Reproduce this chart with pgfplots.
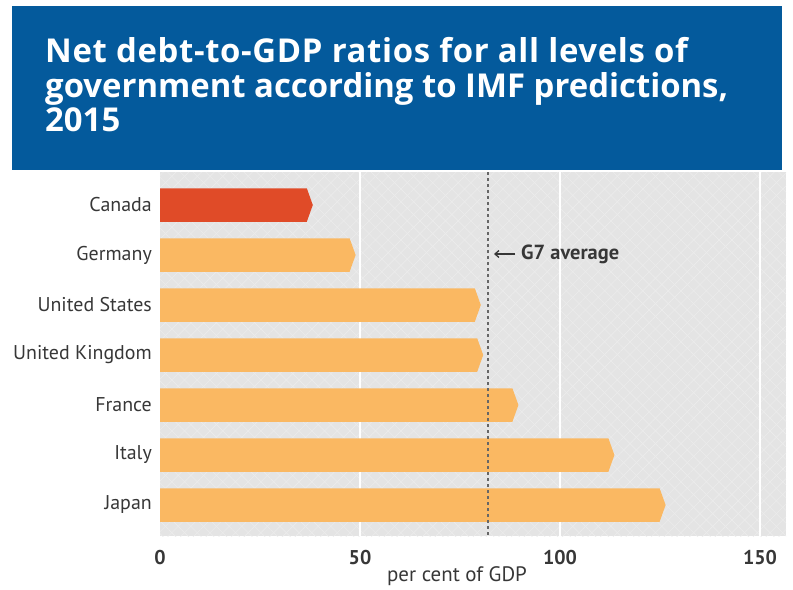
\documentclass[border=0pt]{standalone}
\usepackage{fontspec}
\usepackage{pgfplots}
\pgfplotsset{compat=1.18}
\usetikzlibrary{patterns.meta,arrows.meta}
\setmainfont{PT Sans}
\newfontfamily\titlefont[Ligatures=NoCommon]{Open Sans}
\definecolor{titleblue}{RGB}{4,90,156}
\definecolor{bggray}{RGB}{228,228,228}
\definecolor{hatch}{RGB}{236,236,236}
\definecolor{barorange}{RGB}{250,184,98}
\definecolor{barred}{RGB}{224,75,40}
\definecolor{txtgray}{RGB}{55,55,55}
\begin{document}
\begin{tikzpicture}[x=1bp,y=1bp]
\path[use as bounding box] (0,0) rectangle (793,-590);
\fill[titleblue] (12,-6) rectangle (782,-170);
\begin{scope}[every node/.style={anchor=base west, inner sep=0, text=white, font=\titlefont\bfseries\fontsize{33}{36}\selectfont}]
\node at (45,-63) {\addfontfeatures{LetterSpace=2}Net debt-to-GDP ratios for all levels of};
\node at (45,-98) {government according to IMF predictions,};
\node at (45,-132) {2015};
\end{scope}
\begin{axis}[
  at={(160bp,-536bp)}, anchor=south west,
  scale only axis, width=626bp, height=364bp,
  xmin=0, xmax=156.5, ymin=-0.66, ymax=6.62, y dir=reverse,
  axis line style={draw=none},
  major tick length=0pt,
  xtick={0,50,100,150},
  ytick={0,1,2,3,4,5,6},
  yticklabels={Canada,Germany,United States,United Kingdom,France,Italy,Japan},
  /pgf/number format/assume math mode=true,
  xticklabel style={font=\bfseries\fontsize{20}{20}\selectfont, text=txtgray, anchor=north, inner sep=0pt, yshift=-14bp},
  yticklabel style={font=\fontsize{20}{20}\selectfont, text=txtgray, anchor=east, inner sep=0pt, xshift=-8bp},
  axis background/.style={fill=bggray,
     postaction={pattern={Lines[angle=45,distance=9bp,line width=0.6bp]}, pattern color=hatch},
     postaction={pattern={Lines[angle=-45,distance=9bp,line width=0.6bp]}, pattern color=hatch}},
  clip=false,
]
\draw[white, line width=2bp] (axis cs:50,-0.66) -- (axis cs:50,6.62);
\draw[white, line width=2bp] (axis cs:100,-0.66) -- (axis cs:100,6.62);
\draw[white, line width=2bp] (axis cs:150,-0.66) -- (axis cs:150,6.62);
% bars (chevron tip at the value)
\addplot[fill=barred, draw=none] coordinates {(0,-0.335) (36.7,-0.335) (38.2,0) (36.7,0.335) (0,0.335)} -- cycle;
\addplot[fill=barorange, draw=none] coordinates {(0,0.665) (47.4,0.665) (48.9,1) (47.4,1.335) (0,1.335)} -- cycle;
\addplot[fill=barorange, draw=none] coordinates {(0,1.665) (78.7,1.665) (80.2,2) (78.7,2.335) (0,2.335)} -- cycle;
\addplot[fill=barorange, draw=none] coordinates {(0,2.665) (79.3,2.665) (80.8,3) (79.3,3.335) (0,3.335)} -- cycle;
\addplot[fill=barorange, draw=none] coordinates {(0,3.665) (88.1,3.665) (89.6,4) (88.1,4.335) (0,4.335)} -- cycle;
\addplot[fill=barorange, draw=none] coordinates {(0,4.665) (112.1,4.665) (113.6,5) (112.1,5.335) (0,5.335)} -- cycle;
\addplot[fill=barorange, draw=none] coordinates {(0,5.665) (124.9,5.665) (126.4,6) (124.9,6.335) (0,6.335)} -- cycle;
% G7 average
\addplot[draw=black!60, line width=2bp, dash pattern=on 3bp off 3bp] coordinates {(82.1,-0.66) (82.1,6.62)};
\end{axis}
\draw[-{Straight Barb[length=4bp,width=7bp]}, line width=1.3bp, txtgray] (515,-254) -- (494,-254);
\node[anchor=west, inner sep=0, font=\bfseries\fontsize{20.5}{20}\selectfont, text=txtgray] at (521,-254) {G7 average};
\node[anchor=base, inner sep=0, font=\fontsize{21}{21}\selectfont, text=txtgray] at (457,-581) {per cent of GDP};
\end{tikzpicture}
\end{document}
